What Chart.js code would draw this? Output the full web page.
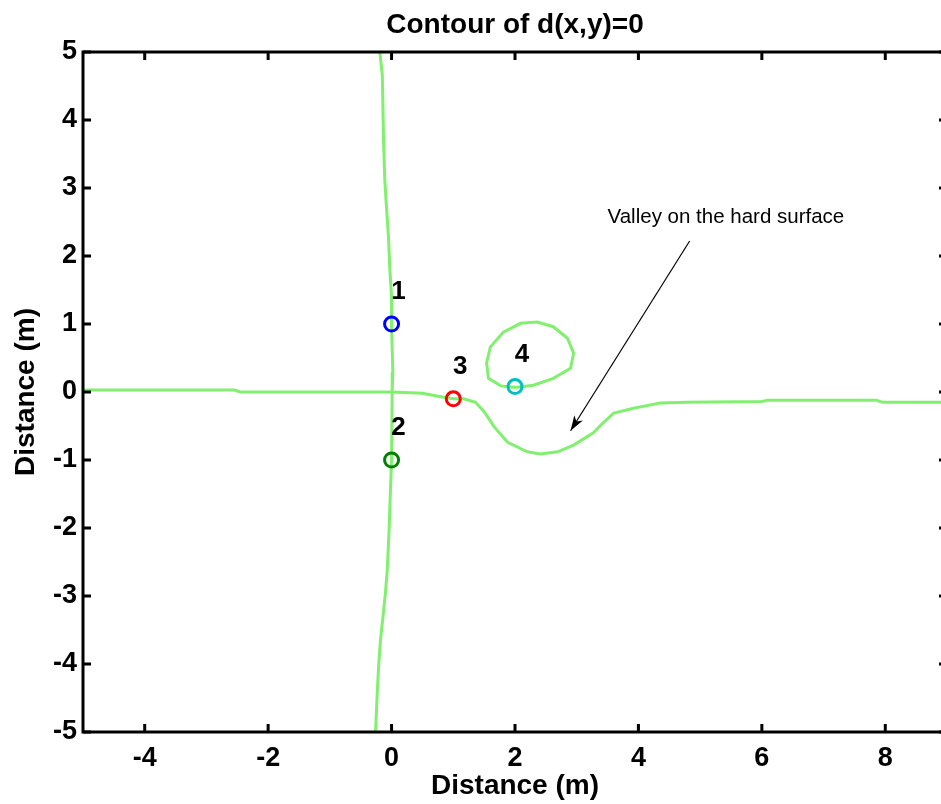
<!DOCTYPE html>
<html>
<head>
<meta charset="utf-8">
<title>Contour of d(x,y)=0</title>
<script src="https://cdn.jsdelivr.net/npm/chart.js@4.4.1/dist/chart.umd.min.js"></script>
<style>
    html, body { margin: 0; padding: 0; background: #fff; overflow: hidden; width: 941px; height: 804px; }
    canvas { display: block; }
</style>
</head>
<body>
<!-- the canvas runs a little past the window so the right edge of the frame (x = 9) is cut off -->
<canvas id="contourChart" width="957" height="804"></canvas>
<script>
// zero level of d(x,y): the near-vertical branch through x = 0
var verticalX = [-0.19, -0.15, -0.13, -0.11, -0.08, -0.05, -0.03, 0.00, 0.00, 0.02, 0.01, 0.00, -0.02, -0.04, -0.07, -0.10, -0.14, -0.18, -0.21, -0.23, -0.26];
var verticalY = [5.00, 4.66, 3.70, 3.12, 2.68, 2.28, 1.84, 1.40, 0.99, 0.29, 0.02, -0.99, -1.49, -2.03, -2.62, -2.96, -3.31, -3.65, -4.04, -4.38, -5.00];

// horizontal branch, with the valley past x = 1.5
var horizontalX = [-5.00, -2.55, -2.45, 0.00, 0.50, 0.80, 1.00, 1.17, 1.36, 1.50, 1.66, 1.88, 2.20, 2.41, 2.69, 2.95, 3.27, 3.42, 3.60, 3.92, 4.36, 4.79, 6.00, 6.10, 7.85, 7.95, 9.00];
var horizontalY = [0.03, 0.03, 0.00, 0.00, -0.02, -0.07, -0.10, -0.10, -0.15, -0.29, -0.51, -0.74, -0.88, -0.91, -0.88, -0.78, -0.60, -0.46, -0.31, -0.24, -0.16, -0.15, -0.14, -0.12, -0.12, -0.15, -0.15];

// closed loop around point 4
var loopX = [2.04, 2.30, 2.62, 2.90, 2.95, 2.85, 2.62, 2.36, 2.09, 1.81, 1.60, 1.54, 1.57, 1.77, 1.98, 2.04];
var loopY = [0.07, 0.10, 0.20, 0.35, 0.57, 0.79, 0.96, 1.03, 1.01, 0.88, 0.66, 0.43, 0.20, 0.09, 0.07, 0.07];

// numbered test points
var pointNames = ['1', '2', '3', '4'];
var pointX = [0, 0, 1, 2];
var pointY = [1, -1, -0.1, 0.08];
var pointColors = ['#0000ff', '#008000', '#ff0000', '#00bfbf'];

// axis ticks
var xTicks = [-4, -2, 0, 2, 4, 6, 8];
var yTicks = [-5, -4, -3, -2, -1, 0, 1, 2, 3, 4, 5];

// annotation
var noteText = 'Valley on the hard surface';
var notePos = [3.5, 2.57];
var arrowFrom = [4.83, 2.22];
var arrowTo = [2.9, -0.57];

var FONT = 'Arial, "Liberation Sans", Helvetica, sans-serif';
var LINE_GREEN = 'rgb(128,240,110)';

function toPoints(xs, ys) {
    return xs.map(function (x, i) { return { x: x, y: ys[i] }; });
}

function curve(xs, ys) {
    return {
        data: toPoints(xs, ys),
        showLine: true,
        borderColor: LINE_GREEN,
        borderWidth: 3,
        pointRadius: 0,
        tension: 0,
        fill: false
    };
}

var markerSets = pointNames.map(function (name, i) {
    return {
        data: [{ x: pointX[i], y: pointY[i] }],
        showLine: false,
        pointRadius: 7,
        pointBorderWidth: 3,
        pointBorderColor: pointColors[i],
        pointBackgroundColor: 'rgba(0,0,0,0)'
    };
});

// box, inward ticks, title, point numbers and the arrow note
var decorPlugin = {
    id: 'decor',
    afterDraw: function (chart) {
        var ctx = chart.ctx;
        var a = chart.chartArea;
        var xs = chart.scales.x, ys = chart.scales.y;
        ctx.save();

        ctx.strokeStyle = '#000';
        ctx.lineWidth = 3;
        ctx.strokeRect(a.left, a.top, a.right - a.left, a.bottom - a.top);
        ctx.beginPath();
        xTicks.forEach(function (v) {
            var px = xs.getPixelForValue(v);
            ctx.moveTo(px, a.bottom); ctx.lineTo(px, a.bottom - 8);
            ctx.moveTo(px, a.top); ctx.lineTo(px, a.top + 8);
        });
        yTicks.forEach(function (v) {
            var py = ys.getPixelForValue(v);
            ctx.moveTo(a.left, py); ctx.lineTo(a.left + 8, py);
            ctx.moveTo(a.right, py); ctx.lineTo(a.right - 8, py);
        });
        ctx.stroke();

        ctx.fillStyle = '#000';
        ctx.textAlign = 'center';
        ctx.textBaseline = 'middle';
        ctx.font = 'bold 28px ' + FONT;
        ctx.fillText('Contour of d(x,y)=0', (a.left + a.right) / 2, 25);

        ctx.font = 'bold 26px ' + FONT;
        pointNames.forEach(function (name, i) {
            ctx.fillText(name, xs.getPixelForValue(pointX[i]) + 7, ys.getPixelForValue(pointY[i]) - 32);
        });

        ctx.textAlign = 'left';
        ctx.font = '20.5px ' + FONT;
        ctx.fillText(noteText, xs.getPixelForValue(notePos[0]), ys.getPixelForValue(notePos[1]));

        var x0 = xs.getPixelForValue(arrowFrom[0]), y0 = ys.getPixelForValue(arrowFrom[1]);
        var x1 = xs.getPixelForValue(arrowTo[0]), y1 = ys.getPixelForValue(arrowTo[1]);
        var ang = Math.atan2(y1 - y0, x1 - x0);
        ctx.lineWidth = 1.2;
        ctx.beginPath();
        ctx.moveTo(x0, y0);
        ctx.lineTo(x1, y1);
        ctx.stroke();
        ctx.beginPath();
        ctx.moveTo(x1, y1);
        ctx.lineTo(x1 - 16 * Math.cos(ang - 0.32), y1 - 16 * Math.sin(ang - 0.32));
        ctx.lineTo(x1 - 11 * Math.cos(ang), y1 - 11 * Math.sin(ang));
        ctx.lineTo(x1 - 16 * Math.cos(ang + 0.32), y1 - 16 * Math.sin(ang + 0.32));
        ctx.closePath();
        ctx.fill();

        ctx.restore();
    }
};

var ctx = document.getElementById('contourChart').getContext('2d');
var contourChart = new Chart(ctx, {
    type: 'scatter',
    data: {
        datasets: markerSets.concat([
            curve(verticalX, verticalY),
            curve(horizontalX, horizontalY),
            curve(loopX, loopY)
        ])
    },
    options: {
        responsive: false,
        animation: false,
        events: [],
        layout: { padding: { top: 52, right: 0, left: 0, bottom: 0 } },
        plugins: {
            legend: { display: false },
            tooltip: { enabled: false }
        },
        scales: {
            x: {
                type: 'linear',
                min: -5,
                max: 9,
                afterBuildTicks: function (scale) {
                    scale.ticks = xTicks.map(function (v) { return { value: v }; });
                },
                afterFit: function (scale) { scale.height = 72; },
                grid: { display: false, drawTicks: false },
                border: { display: false },
                ticks: {
                    color: '#000',
                    padding: 10,
                    maxRotation: 0,
                    font: { family: FONT, size: 27, weight: 'bold' },
                    callback: function (v) { return String(v); }
                },
                title: {
                    display: true,
                    text: 'Distance (m)',
                    color: '#000',
                    font: { family: FONT, size: 28, weight: 'bold' },
                    padding: { top: 0, bottom: 1 }
                }
            },
            y: {
                type: 'linear',
                min: -5,
                max: 5,
                afterBuildTicks: function (scale) {
                    scale.ticks = yTicks.map(function (v) { return { value: v }; });
                },
                afterFit: function (scale) { scale.width = 83; },
                grid: { display: false, drawTicks: false },
                border: { display: false },
                ticks: {
                    color: '#000',
                    padding: 6,
                    font: { family: FONT, size: 27, weight: 'bold' },
                    callback: function (v) { return String(v); }
                },
                title: {
                    display: true,
                    text: 'Distance (m)',
                    color: '#000',
                    font: { family: FONT, size: 28, weight: 'bold' },
                    padding: { top: 9, bottom: 0 }
                }
            }
        }
    },
    plugins: [decorPlugin]
});
</script>
</body>
</html>
